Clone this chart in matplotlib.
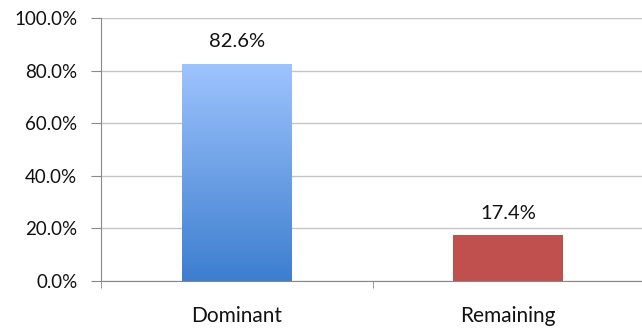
import numpy as np
import matplotlib
matplotlib.use("Agg")
import matplotlib.pyplot as plt
from matplotlib.colors import LinearSegmentedColormap
from matplotlib.ticker import FuncFormatter, MultipleLocator

categories = ["Dominant", "Remaining"]
shares = [82.6, 17.4]
labels = ["82.6%", "17.4%"]

plt.rcParams['font.family'] = ['Lato', 'DejaVu Sans']
NUM_FS = 13.5
CAT_FS = 15

fig = plt.figure(figsize=(6.42, 3.29), dpi=100)
ax = fig.add_axes([101 / 642, 48 / 329, 543 / 642, 263 / 329])

x = np.arange(len(categories))
bars = ax.bar(x, shares, width=0.405, color=["none", "#C0504D"], zorder=3)

# blue gradient fill for the first bar
grad = LinearSegmentedColormap.from_list("g", ["#3D7ECF", "#9EC4FE"])
b = bars[0]
bx, by = b.get_x(), b.get_y()
bw, bh = b.get_width(), b.get_height()
img = ax.imshow(np.linspace(0, 1, 256).reshape(-1, 1), cmap=grad, origin="lower",
                extent=[bx, bx + bw, by, by + bh], aspect="auto", zorder=3)
img.set_clip_path(b)

for xi, v, lab in zip(x, shares, labels):
    ax.annotate(lab, (xi, v), xytext=(0, 16), textcoords="offset points",
                ha="center", va="center", fontsize=14.5, color="#111111")

ax.set_xlim(-0.5, 1.5)
ax.set_ylim(0, 100)
ax.yaxis.set_major_locator(MultipleLocator(20))
ax.yaxis.set_major_formatter(FuncFormatter(lambda v, p: f"{v:.1f}%"))
ax.set_xticks(x)
ax.set_xticklabels(categories)
ax.set_xticks([-0.5, 0.5, 1.5], minor=True)
ax.tick_params(axis="x", which="major", length=0, pad=18, labelsize=CAT_FS, labelcolor="#111111")
ax.tick_params(axis="x", which="minor", length=5, color="#888888")
ax.tick_params(axis="y", length=7, color="#888888", pad=10, labelsize=NUM_FS, labelcolor="#111111")
ax.grid(axis="y", color="#c4c4c4", linewidth=1, zorder=0)
for s in ["top", "right"]:
    ax.spines[s].set_visible(False)
for s in ["left", "bottom"]:
    ax.spines[s].set_color("#888888")

fig.savefig("out.png", dpi=100)
